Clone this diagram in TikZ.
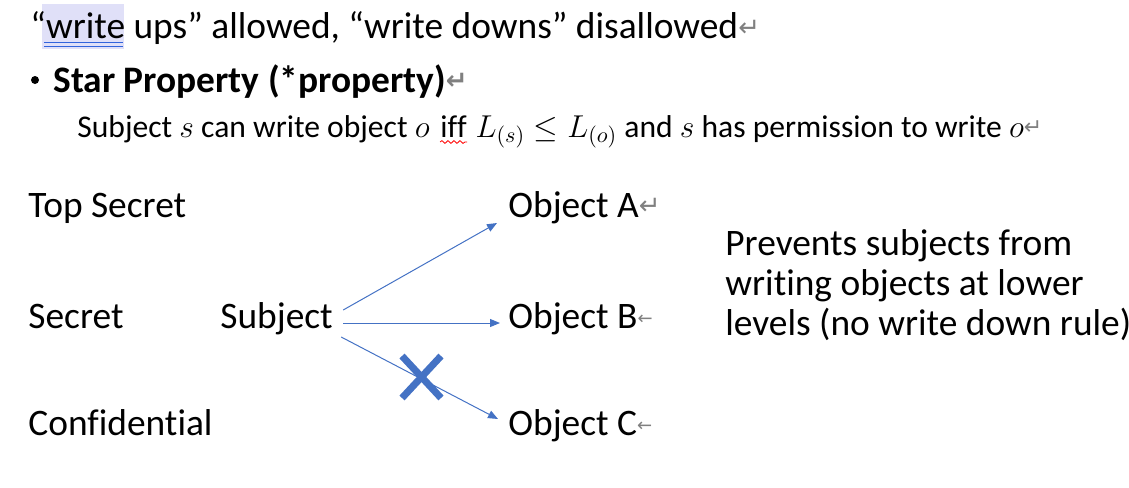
\documentclass[tikz,border=0pt]{standalone}
\usepackage{fix-cm}
\usepackage{fontspec}
\setmainfont{Carlito}[Ligatures=NoCommon]
\newfontfamily\markfont{DejaVu Sans}
\usetikzlibrary{arrows.meta,decorations.pathmorphing}

\definecolor{arrowblue}{RGB}{68,114,196}
\definecolor{markgray}{RGB}{128,128,128}
\definecolor{hilite}{RGB}{224,224,248}
\definecolor{ulblue}{RGB}{50,100,220}

\newcommand{\parmark}[1][13]{{\markfont\fontsize{#1}{#1}\selectfont\raisebox{1.5pt}{\textcolor{markgray}{↵}}}}
\newcommand{\brkmark}{{\markfont\fontsize{9}{9}\selectfont\raisebox{2pt}{\textcolor{markgray}{←}}}}

\begin{document}
\begin{tikzpicture}[x=0.5pt, y=-0.5pt,
    txt/.style={inner sep=0pt, anchor=base west, font=\fontsize{18.7}{20}\selectfont},
    small/.style={txt, font=\fontsize{15.8}{18}\selectfont},
    wr/.style={draw=arrowblue, line width=0.5pt, -{Triangle[length=5pt,width=4pt]}},
    cross/.style={draw=arrowblue, line width=3.5pt},
    squiggle/.style={red, line width=0.4pt, decorate, decoration={snake, amplitude=0.7pt, segment length=3pt}}]

    \def\xl{28};
    \def\xo{508};
    \def\ya{217};
    \def\yb{328};
    \def\yc{435};

    \useasboundingbox (0,0) rectangle (1129,487);

% heading lines

    \fill[hilite] (42,4) rectangle (124,49);
    \node[txt] (head) at (30,39) {“write ups” allowed, “write downs” disallowed\parmark};
    \draw[ulblue, line width=0.6pt] (44,42.5) -- (123,42.5) (44,46.5) -- (123,46.5);

    \fill (35,80) circle (4);
    \node[txt, font=\bfseries\fontsize{18.7}{20}\selectfont] (star) at (53,92) {Star Property (*property)\parmark};

    \node[small] (rule) at (77,137) {Subject $s$ can write object $o$};
    \node[small] (iff) at ([xshift=5pt]rule.base east) {iff};
    \node[small] (rulerest) at ([xshift=4pt]iff.base east) {$L_{(s)} \leq L_{(o)}$ and $s$ has permission to write $o$\parmark[11]};
    \draw[squiggle] ([yshift=-2.5pt]iff.base west) -- ([yshift=-2.5pt]iff.base east);

% levels

    \node[txt] (top) at (\xl, \ya) {Top Secret};
    \node[txt] (sec) at (\xl, \yb) {Secret};
    \node[txt] (conf) at (\xl, \yc) {Confidential};

% subject and objects

    \node[txt] (subj) at (220, \yb) {Subject};
    \node[txt] (objA) at (\xo, \ya) {Object A\parmark};
    \node[txt] (objB) at (\xo, \yb) {Object B\brkmark};
    \node[txt] (objC) at (\xo, \yc) {Object C\brkmark};

    \draw[wr] ([shift={(10,-18)}]subj.base east) -- ([shift={(-11,6)}]objA.base west);
    \draw[wr] ([shift={(10,-5)}]subj.base east) -- ([shift={(-8,-5)}]objB.base west);
    \draw[wr] ([shift={(8,9)}]subj.base east) -- ([shift={(-10,-16)}]objC.base west);

    \draw[cross] (402,356) -- (441,398) (402,398) -- (441,356);

% note

    \node[txt] (note1) at (725, 255) {Prevents subjects from};
    \node[txt] (note2) at (725, 295) {writing objects at lower};
    \node[txt] (note3) at (725, 335) {levels (no write down rule)\brkmark};

\end{tikzpicture}
\end{document}
